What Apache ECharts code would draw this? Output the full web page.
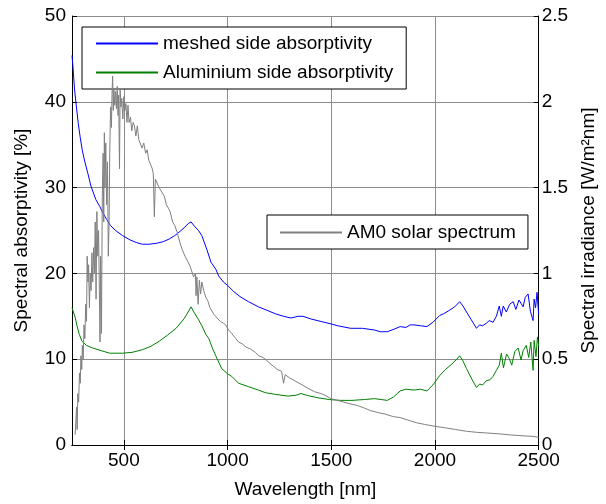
<!DOCTYPE html>
<html>
<head>
<meta charset="utf-8">
<script src="https://cdn.jsdelivr.net/npm/echarts@6/dist/echarts.min.js"></script>
<style>html,body{margin:0;padding:0;background:#fff;}#c{width:606px;height:504px;}</style>
</head>
<body>
<div id="c"></div>
<script>
const seriesNames = ['meshed side absorptivity', 'Aluminium side absorptivity', 'AM0 solar spectrum'];
const xTicks = [500, 1000, 1500, 2000, 2500];

const meshedData = [[250,45.4],[255,44.0],[262,41.5],[269,39.9],[280,37.5],[290,35.8],[300,34.3],[312,33.0],[327,31.6],[341,30.2],[350,29.6],[365,28.6],[384,27.8],[400,27.0],[417,26.3],[435,25.6],[460,25.0],[494,24.4],[530,23.9],[560,23.6],[589,23.4],[620,23.4],[656,23.5],[690,23.7],[718,24.0],[745,24.4],[766,24.8],[790,25.3],[810,25.8],[824,26.0],[840,25.5],[860,25.0],[876,24.4],[900,22.8],[920,21.3],[943,20.5],[957,19.7],[980,19.0],[1000,18.6],[1029,17.9],[1060,17.3],[1101,16.7],[1149,16.1],[1190,15.7],[1230,15.3],[1270,15.0],[1306,14.8],[1340,15.0],[1364,15.0],[1400,14.7],[1450,14.4],[1500,14.1],[1531,13.9],[1593,13.6],[1650,13.6],[1708,13.4],[1737,13.2],[1770,13.2],[1803,13.5],[1832,13.8],[1860,13.7],[1880,14.0],[1899,14.0],[1930,13.9],[1961,13.8],[1990,14.3],[2023,15.1],[2042,15.3],[2070,15.7],[2095,16.1],[2119,16.7],[2135,16.2],[2152,15.5],[2175,14.6],[2200,13.6],[2215,14.0],[2230,13.9],[2248,14.2],[2262,14.5],[2280,14.3],[2296,15.0],[2310,16.2],[2320,15.0],[2329,16.2],[2344,15.5],[2360,16.4],[2377,16.7],[2390,15.8],[2405,16.9],[2425,16.1],[2435,17.2],[2449,17.6],[2460,15.6],[2473,14.5],[2478,17.0],[2485,16.0],[2492,17.8],[2500,15.2]];

const aluminiumData = [[250,16.0],[255,15.8],[265,14.9],[274,13.9],[285,12.9],[298,12.1],[320,11.6],[350,11.3],[390,11.0],[432,10.7],[494,10.7],[540,10.8],[589,11.1],[630,11.5],[671,12.1],[710,12.8],[752,13.6],[790,14.7],[810,15.5],[824,16.1],[840,15.4],[860,14.6],[876,13.9],[895,12.9],[910,12.4],[925,11.4],[943,10.4],[972,8.9],[1000,8.3],[1020,8.0],[1053,7.2],[1101,6.8],[1149,6.4],[1182,6.1],[1230,5.9],[1292,5.7],[1330,5.8],[1354,6.0],[1380,5.8],[1436,5.5],[1490,5.3],[1545,5.2],[1600,5.2],[1660,5.3],[1708,5.4],[1740,5.3],[1770,5.2],[1800,5.6],[1832,6.3],[1860,6.5],[1899,6.4],[1930,6.5],[1961,6.3],[1990,7.0],[2023,8.1],[2050,8.8],[2080,9.4],[2105,10.0],[2119,10.4],[2135,9.8],[2152,8.9],[2175,7.8],[2200,6.7],[2215,7.1],[2230,7.0],[2248,7.5],[2265,7.6],[2280,8.0],[2296,8.7],[2310,9.3],[2320,10.7],[2330,9.0],[2345,10.6],[2358,10.1],[2370,9.3],[2385,10.9],[2401,11.3],[2415,9.9],[2425,11.0],[2440,11.6],[2452,10.2],[2462,12.0],[2473,8.7],[2478,12.2],[2487,10.3],[2494,12.6],[2500,11.5]];

const am0Data = [[265,0.06],[272,0.22],[275,0.09],[278,0.30],[282,0.25],[286,0.42],[290,0.36],[293,0.52],[297,0.44],[300,0.58],[304,0.50],[308,0.70],[312,0.62],[316,0.82],[320,0.72],[323,1.10],[327,0.95],[330,1.05],[334,0.80],[338,1.00],[342,0.90],[346,1.12],[350,0.95],[354,1.15],[358,1.00],[362,1.30],[366,0.85],[370,1.36],[374,1.10],[378,1.25],[382,0.90],[385,0.60],[388,1.10],[392,0.65],[396,1.45],[400,1.70],[403,1.30],[406,1.82],[409,1.50],[413,1.76],[417,1.40],[421,1.65],[425,1.10],[429,1.30],[432,1.70],[436,1.97],[440,1.85],[443,2.05],[446,2.15],[449,1.95],[452,2.07],[456,1.98],[460,2.06],[464,1.96],[468,2.09],[472,1.92],[475,2.04],[479,1.61],[482,2.07],[486,1.97],[490,2.02],[495,1.90],[500,2.03],[505,1.95],[510,1.99],[515,1.88],[520,1.98],[525,1.88],[532,1.91],[538,1.83],[545,1.88],[551,1.86],[558,1.80],[565,1.86],[572,1.78],[580,1.78],[588,1.73],[596,1.76],[605,1.70],[613,1.72],[620,1.66],[628,1.66],[637,1.61],[642,1.58],[647,1.33],[652,1.55],[661,1.55],[670,1.50],[680,1.48],[695,1.45],[705,1.40],[715,1.38],[723,1.36],[735,1.30],[745,1.28],[757,1.24],[770,1.18],[781,1.14],[795,1.10],[808,1.07],[820,1.04],[828,1.04],[836,0.98],[845,1.00],[848,0.87],[852,0.98],[858,0.82],[864,0.96],[870,0.88],[876,0.95],[885,0.90],[895,0.86],[905,0.84],[915,0.80],[924,0.79],[935,0.76],[950,0.74],[965,0.72],[980,0.71],[991,0.70],[1005,0.67],[1020,0.65],[1040,0.62],[1053,0.60],[1070,0.59],[1090,0.57],[1110,0.56],[1134,0.54],[1150,0.52],[1170,0.51],[1182,0.50],[1200,0.48],[1220,0.46],[1240,0.44],[1260,0.43],[1270,0.36],[1278,0.41],[1300,0.39],[1330,0.37],[1360,0.35],[1388,0.33],[1420,0.31],[1450,0.30],[1470,0.29],[1498,0.27],[1530,0.26],[1560,0.25],[1590,0.24],[1627,0.23],[1660,0.215],[1690,0.20],[1722,0.19],[1760,0.18],[1800,0.165],[1832,0.16],[1870,0.145],[1910,0.13],[1950,0.12],[1995,0.11],[2050,0.10],[2100,0.09],[2152,0.08],[2200,0.074],[2250,0.07],[2310,0.065],[2370,0.058],[2430,0.053],[2473,0.05],[2500,0.045]];

const FONT = 'Liberation Sans, Arial, sans-serif';
const FS = 19;
const chart = echarts.init(document.getElementById('c'), null, {renderer: 'canvas'});
const tickStyle = {show: true, inside: true, length: 5, lineStyle: {color: '#000', width: 1}};
const plainNum = v => String(v);
const legendCommon = {
  orient: 'vertical', itemWidth: 62, itemHeight: 14,
  itemStyle: {opacity: 0},
  backgroundColor: '#fff', borderColor: '#000', borderWidth: 1, borderRadius: 0,
  textStyle: {fontSize: FS, color: '#000', fontFamily: FONT},
  selectedMode: false
};
chart.setOption({
  animation: false,
  backgroundColor: '#fff',
  textStyle: {fontFamily: FONT},
  grid: {left: 72, right: 65, top: 16, bottom: 57, containLabel: false},
  legend: [
    Object.assign({}, legendCommon, {
      data: [seriesNames[0], seriesNames[1]],
      left: 82, top: 27, padding: [7, 13, 7, 13], itemGap: 10
    }),
    Object.assign({}, legendCommon, {
      data: [seriesNames[2]],
      left: 267, top: 215, padding: [8, 12, 7, 12]
    })
  ],
  xAxis: [
    {
      type: 'value', min: 250, max: 2500, position: 'bottom',
      name: 'Wavelength [nm]', nameLocation: 'middle', nameGap: 35,
      nameTextStyle: {fontSize: FS, color: '#000', fontFamily: FONT},
      axisLine: {show: true, lineStyle: {color: '#000', width: 1}},
      axisTick: Object.assign({customValues: xTicks}, tickStyle),
      axisLabel: {customValues: xTicks, formatter: plainNum, fontSize: FS, color: '#000', margin: 6, fontFamily: FONT},
      splitLine: {show: true, lineStyle: {color: '#8c8c8c', width: 1}}
    },
    {
      type: 'value', min: 250, max: 2500, position: 'top',
      axisLine: {show: true, lineStyle: {color: '#000', width: 1}},
      axisTick: Object.assign({customValues: xTicks}, tickStyle),
      axisLabel: {show: false},
      splitLine: {show: false}
    }
  ],
  yAxis: [
    {
      type: 'value', min: 0, max: 50, interval: 10, position: 'left',
      name: 'Spectral absorptivity [%]', nameLocation: 'middle', nameGap: 41,
      nameTextStyle: {fontSize: FS, color: '#000', fontFamily: FONT},
      axisLine: {show: true, lineStyle: {color: '#000', width: 1}},
      axisTick: tickStyle,
      axisLabel: {formatter: plainNum, fontSize: FS, color: '#000', margin: 6, fontFamily: FONT},
      splitLine: {show: true, lineStyle: {color: '#8c8c8c', width: 1}}
    },
    {
      type: 'value', min: 0, max: 2.5, interval: 0.5, position: 'right',
      name: 'Spectral irradiance [W/m²nm]', nameLocation: 'middle', nameGap: 37,
      nameTextStyle: {fontSize: FS, color: '#000', fontFamily: FONT},
      axisLine: {show: true, lineStyle: {color: '#000', width: 1}},
      axisTick: tickStyle,
      axisLabel: {formatter: plainNum, fontSize: FS, color: '#000', margin: 3, fontFamily: FONT},
      splitLine: {show: false}
    }
  ],
  series: [
    {
      name: seriesNames[0], type: 'line', xAxisIndex: 0, yAxisIndex: 0,
      data: meshedData, symbol: 'none', showSymbol: false, z: 2,
      lineStyle: {color: '#0000ff', width: 1}, itemStyle: {color: '#0000ff'}
    },
    {
      name: seriesNames[1], type: 'line', xAxisIndex: 0, yAxisIndex: 0,
      data: aluminiumData, symbol: 'none', showSymbol: false, z: 2,
      lineStyle: {color: '#008000', width: 1}, itemStyle: {color: '#008000'}
    },
    {
      name: seriesNames[2], type: 'line', xAxisIndex: 0, yAxisIndex: 1,
      data: am0Data, symbol: 'none', showSymbol: false, z: 5,
      lineStyle: {color: '#808080', width: 1}, itemStyle: {color: '#808080'}
    }
  ]
});
</script>
</body>
</html>
